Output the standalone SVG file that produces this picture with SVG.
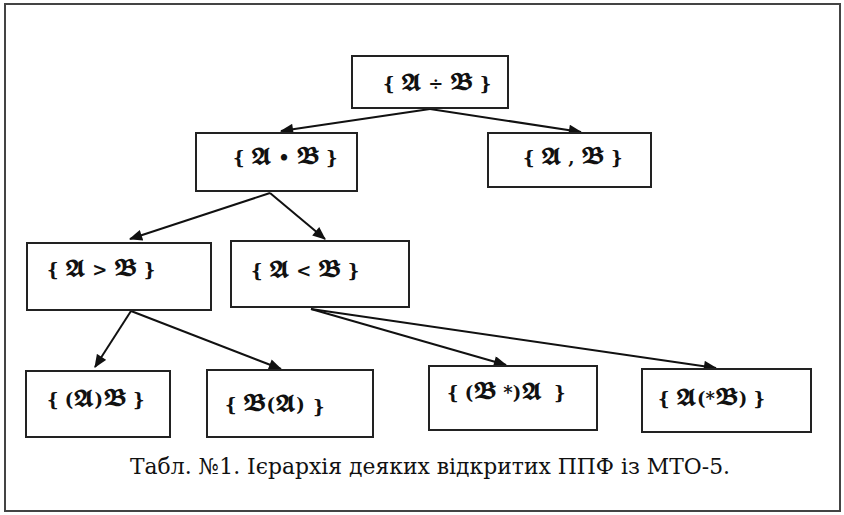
<svg xmlns="http://www.w3.org/2000/svg" width="844" height="515" viewBox="0 0 844 515">
<style>
.box{fill:#fff;stroke:#222;stroke-width:2}
.t{font-family:'DejaVu Serif',serif;font-size:18px;font-weight:bold;fill:#111}
.f{font-family:'DejaVu Math TeX Gyre','Noto Sans Math',serif;font-size:20px}
.cap{font-family:'DejaVu Serif',serif;font-size:22px;fill:#111}
.e{stroke:#111;stroke-width:2;fill:none;marker-end:url(#ah)}
</style>
<defs>
<marker id="ah" viewBox="0 0 12 10" refX="11" refY="5" markerWidth="14" markerHeight="11" orient="auto" markerUnits="userSpaceOnUse">
<path d="M0,0 L12,5 L0,10 z" fill="#111"/>
</marker>
</defs>
<rect x="0" y="0" width="844" height="515" fill="#fff"/>
<rect x="5" y="4" width="835" height="507" fill="none" stroke="#444" stroke-width="2"/>
<g id="connectors">
<line class="e" x1="430" y1="109" x2="281" y2="131"/>
<line class="e" x1="430" y1="109" x2="581" y2="132"/>
<line class="e" x1="270" y1="193" x2="130" y2="239"/>
<line class="e" x1="270" y1="193" x2="325" y2="239"/>
<line class="e" x1="131" y1="311" x2="95" y2="367"/>
<line class="e" x1="131" y1="311" x2="281" y2="369"/>
<line class="e" x1="311" y1="309" x2="506" y2="365"/>
<line class="e" x1="311" y1="309" x2="716" y2="368"/>
</g>
<g id="n1"><rect class="box" x="352" y="56" width="156" height="52"/><text class="t" x="383" y="90">{ <tspan class="f">𝕬</tspan> ÷ <tspan class="f">𝕭</tspan> }</text></g>
<g id="n2"><rect class="box" x="196" y="133" width="161" height="58"/><text class="t" x="233" y="164">{ <tspan class="f">𝕬</tspan> • <tspan class="f">𝕭</tspan> }</text></g>
<g id="n3"><rect class="box" x="488" y="133" width="163" height="54"/><text class="t" x="523" y="164">{ <tspan class="f">𝕬</tspan> , <tspan class="f">𝕭</tspan> }</text></g>
<g id="n4"><rect class="box" x="27" y="243" width="184" height="67"/><text class="t" x="47" y="276">{ <tspan class="f">𝕬</tspan> &gt; <tspan class="f">𝕭</tspan> }</text></g>
<g id="n5"><rect class="box" x="231" y="241" width="178" height="66"/><text class="t" x="251" y="277">{ <tspan class="f">𝕬</tspan> &lt; <tspan class="f">𝕭</tspan> }</text></g>
<g id="n6"><rect class="box" x="26" y="371" width="144" height="66"/><text class="t" x="47" y="406">{ (<tspan class="f">𝕬</tspan>)<tspan class="f">𝕭</tspan> }</text></g>
<g id="n7"><rect class="box" x="207" y="370" width="166" height="67"/><text class="t" x="225" y="411">{ <tspan class="f">𝕭</tspan>(<tspan class="f">𝕬</tspan>)</text><text class="t" x="313" y="413" font-size="25">}</text></g>
<g id="n8"><rect class="box" x="429" y="366" width="168" height="64"/><text class="t" x="447" y="399">{ (<tspan class="f">𝕭</tspan> *)<tspan class="f">𝕬</tspan></text><text class="t" x="554" y="399">}</text></g>
<g id="n9"><rect class="box" x="642" y="369" width="169" height="63"/><text class="t" x="658" y="405">{ <tspan class="f">𝕬</tspan>(*<tspan class="f">𝕭</tspan>) }</text></g>
<text class="cap" x="130" y="474" textLength="600" lengthAdjust="spacingAndGlyphs">Табл. №1. Ієрархія деяких відкритих ППФ із МТО-5.</text>
</svg>
